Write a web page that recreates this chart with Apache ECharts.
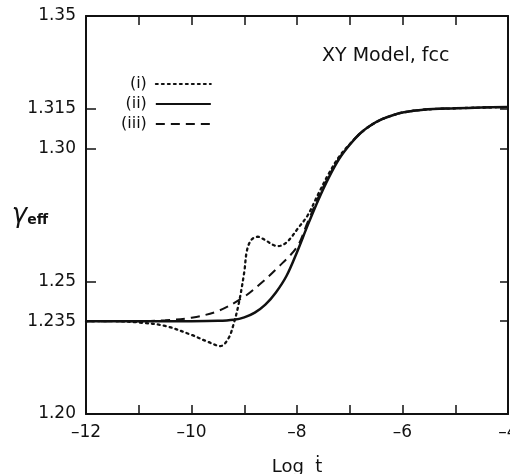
<!DOCTYPE html>
<html><head><meta charset="utf-8">
<script src="https://cdn.jsdelivr.net/npm/echarts@6/dist/echarts.min.js"></script>
<style>html,body{margin:0;padding:0;background:#fff}#c{width:510px;height:474px}</style>
</head><body><div id="c"></div>
<script>
const seriesNames = ['(i)', '(ii)', '(iii)'];

const xDotted = [-12, -11.5, -11, -10.5, -10, -9.7, -9.45, -9.3, -9.2, -9.1, -9.0, -8.95, -8.87, -8.75, -8.6, -8.45, -8.35, -8.22, -8.1, -8.0, -7.8, -7.6, -7.4, -7.2, -7.0, -6.8, -6.6, -6.4, -6.2, -6.0, -5.6, -5.0, -4.5, -4.0];
const yDotted = [1.235, 1.235, 1.2345, 1.2332, 1.2298, 1.2273, 1.2256, 1.2285, 1.234, 1.242, 1.2535, 1.2615, 1.2655, 1.2668, 1.2655, 1.2637, 1.2633, 1.2643, 1.2668, 1.2695, 1.2748, 1.2828, 1.2905, 1.297, 1.3017, 1.3058, 1.3088, 1.311, 1.3125, 1.3136, 1.3147, 1.3152, 1.3155, 1.3157];

const xSolid = [-12, -11, -10, -9.5, -9.2, -9.0, -8.8, -8.6, -8.4, -8.2, -8.0, -7.8, -7.6, -7.4, -7.2, -7.0, -6.8, -6.6, -6.4, -6.2, -6.0, -5.6, -5.0, -4.5, -4.0];
const ySolid = [1.235, 1.235, 1.235, 1.2351, 1.2355, 1.2364, 1.2382, 1.2412, 1.2458, 1.252, 1.261, 1.271, 1.2805, 1.289, 1.2962, 1.3015, 1.3058, 1.3088, 1.311, 1.3125, 1.3136, 1.3147, 1.3152, 1.3155, 1.3157];

const xDashed = [-12, -11, -10.5, -10, -9.5, -9.0, -8.7, -8.4, -8.0, -7.8, -7.6, -7.4, -7.2, -7.0, -6.8, -6.6, -6.4, -6.2, -6.0, -5.6, -5.0, -4.5, -4.0];
const yDashed = [1.235, 1.235, 1.2353, 1.2363, 1.2388, 1.2442, 1.249, 1.2545, 1.263, 1.2722, 1.2815, 1.2895, 1.2964, 1.3016, 1.3058, 1.3088, 1.311, 1.3125, 1.3136, 1.3147, 1.3152, 1.3155, 1.3157];

const yTickValues = [1.20, 1.235, 1.25, 1.30, 1.315, 1.35];
const yTickLabels = ['1.20', '1.235', '1.25', '1.30', '1.315', '1.35'];
const xLabelValues = [-12, -10, -8, -6, -4];
const xTickLabels = ['\u201312', '\u201310', '\u20138', '\u20136', '\u20134'];
const chartTitle = 'XY Model, fcc';
const xAxisTitle = 'Log  \u1E6B';

const zip = (xs, ys) => xs.map((x, i) => [x, ys[i]]);
const lookup = (vals, labels, v) => {
  const i = vals.findIndex(t => Math.abs(t - v) < 1e-9);
  return i >= 0 ? labels[i] : '';
};

const INK = '#111';
const FONT = 'DejaVu Sans';
const axisLine = { show: true, onZero: false, lineStyle: { color: INK, width: 2 } };

const chart = echarts.init(document.getElementById('c'), null, { renderer: 'canvas' });
chart.setOption({
  animation: false,
  backgroundColor: '#fff',
  grid: { left: 86, right: 2, top: 16, bottom: 60, containLabel: false, outerBoundsMode: 'none' },
  legend: {
    data: seriesNames,
    orient: 'vertical',
    left: 116,
    top: 71,
    align: 'right',
    itemWidth: 55,
    itemHeight: 12,
    itemGap: 4,
    itemStyle: { opacity: 0 },
    textStyle: { fontFamily: FONT, fontSize: 16, color: INK, padding: [0, 4, 0, 0] },
    selectedMode: false
  },
  graphic: [{
    type: 'text', left: 322, top: 47,
    style: { text: chartTitle, font: '19px "DejaVu Sans"', fill: INK }
  }],
  xAxis: [{
    type: 'value', min: -12, max: -4, interval: 1, position: 'bottom',
    name: xAxisTitle, nameLocation: 'middle', nameGap: 44, nameMoveOverlap: false,
    nameTextStyle: { fontFamily: FONT, fontSize: 18, color: INK },
    axisLine: axisLine,
    axisTick: { inside: true, length: 9, lineStyle: { color: INK, width: 1.5 } },
    axisLabel: {
      customValues: xLabelValues,
      formatter: v => lookup(xLabelValues, xTickLabels, v),
      fontFamily: FONT, fontSize: 17, color: INK, margin: 10
    },
    splitLine: { show: false }
  }, {
    type: 'value', min: -12, max: -4, interval: 1, position: 'top',
    axisLine: axisLine,
    axisTick: { inside: true, length: 9, lineStyle: { color: INK, width: 1.5 } },
    axisLabel: { show: false },
    splitLine: { show: false }
  }],
  yAxis: [{
    type: 'value', min: 1.20, max: 1.35, position: 'left',
    name: '{g|\u03B3}{s|eff}', nameLocation: 'middle', nameRotate: 0, nameGap: 38, nameMoveOverlap: false,
    nameTextStyle: {
      align: 'right',
      rich: {
        g: { fontFamily: FONT, fontSize: 26, fontStyle: 'italic', color: INK, verticalAlign: 'middle' },
        s: { fontFamily: FONT, fontSize: 14, fontWeight: 'bold', color: INK, padding: [10, 0, 0, 0], verticalAlign: 'middle' }
      }
    },
    axisLine: axisLine,
    axisTick: { inside: true, length: 10, customValues: yTickValues, lineStyle: { color: INK, width: 1.5 } },
    axisLabel: {
      customValues: yTickValues,
      formatter: v => lookup(yTickValues, yTickLabels, v),
      fontFamily: FONT, fontSize: 17, color: INK, margin: 10
    },
    splitLine: { show: false }
  }, {
    type: 'value', min: 1.20, max: 1.35, position: 'right',
    axisLine: axisLine,
    axisTick: { inside: true, length: 8, customValues: yTickValues, lineStyle: { color: INK, width: 1.5 } },
    axisLabel: { show: false },
    splitLine: { show: false }
  }],
  series: [{
    name: seriesNames[0], type: 'line', data: zip(xDotted, yDotted),
    showSymbol: false, symbol: 'none', smooth: 0.35, z: 3,
    lineStyle: { color: INK, width: 2.3, type: [2, 4], cap: 'round' },
    itemStyle: { color: INK }
  }, {
    name: seriesNames[1], type: 'line', data: zip(xSolid, ySolid),
    showSymbol: false, symbol: 'none', smooth: 0.35, z: 4,
    lineStyle: { color: INK, width: 2.5, type: 'solid' },
    itemStyle: { color: INK }
  }, {
    name: seriesNames[2], type: 'line', data: zip(xDashed, yDashed),
    showSymbol: false, symbol: 'none', smooth: 0.35, z: 2,
    lineStyle: { color: INK, width: 2, type: [9, 6] },
    itemStyle: { color: INK }
  }]
});
</script>
</body></html>
